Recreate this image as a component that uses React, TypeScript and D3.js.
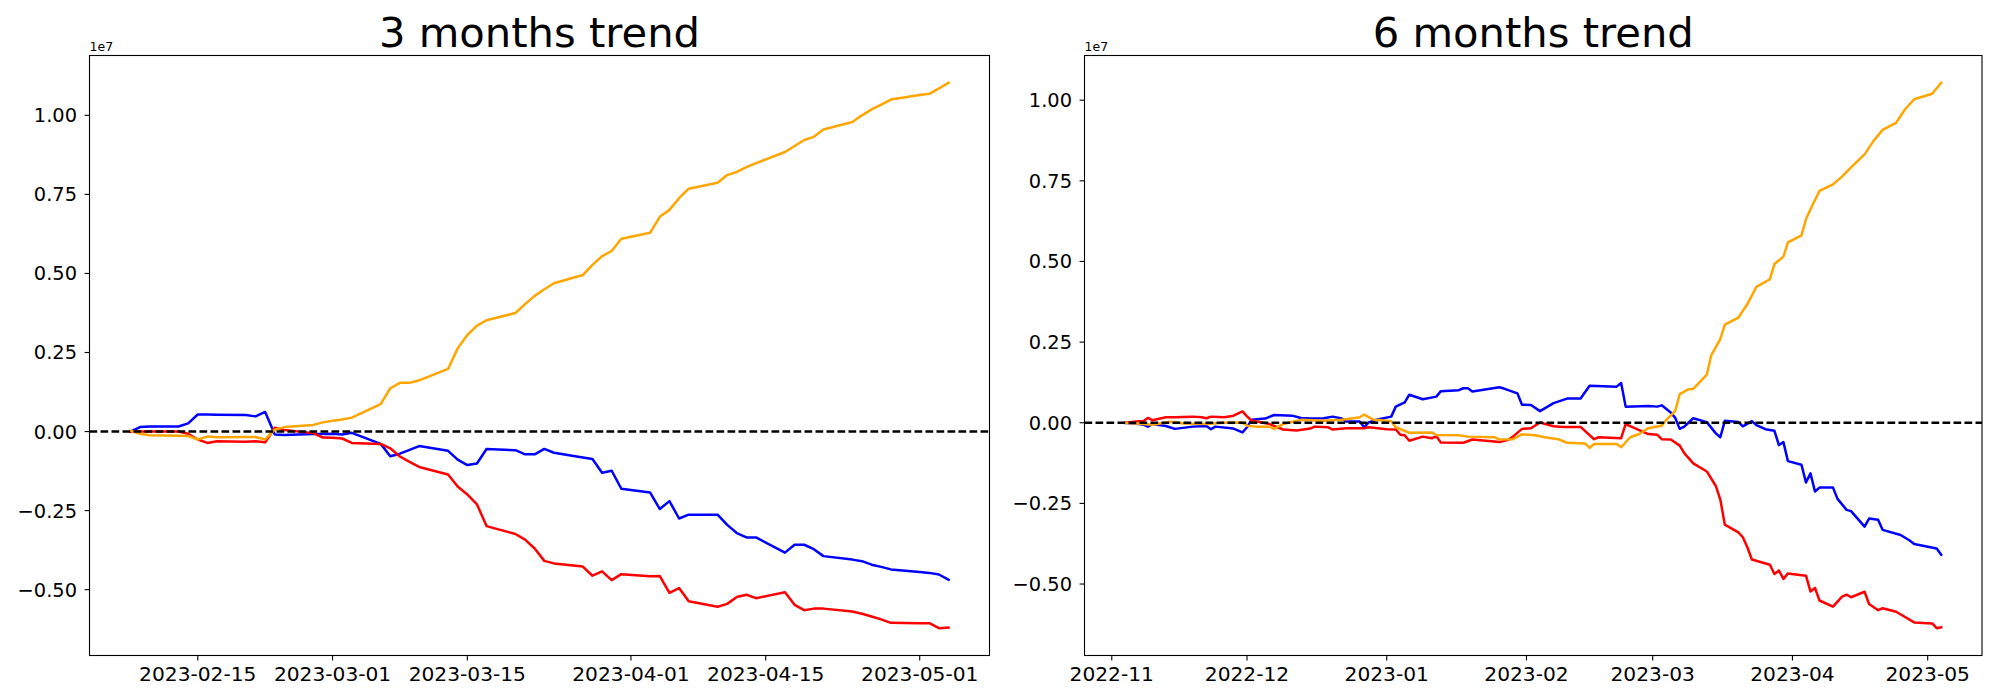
import { useEffect, useRef } from 'react';
import * as d3 from 'd3';

type Pt = [string, number];

// values are in units of 1e7 (matplotlib offset text)

// 3 months trend: one point per business day
const threeMonthDates = [
  '2023-02-08', '2023-02-09', '2023-02-10', '2023-02-13', '2023-02-14', '2023-02-15', '2023-02-16', '2023-02-17',
  '2023-02-20', '2023-02-21', '2023-02-22', '2023-02-23', '2023-02-24', '2023-02-27', '2023-02-28',
  '2023-03-01', '2023-03-02', '2023-03-03', '2023-03-06', '2023-03-07', '2023-03-08', '2023-03-09', '2023-03-10',
  '2023-03-13', '2023-03-14', '2023-03-15', '2023-03-16', '2023-03-17', '2023-03-20', '2023-03-21', '2023-03-22',
  '2023-03-23', '2023-03-24', '2023-03-27', '2023-03-28', '2023-03-29', '2023-03-30', '2023-03-31',
  '2023-04-03', '2023-04-04', '2023-04-05', '2023-04-06', '2023-04-07', '2023-04-10', '2023-04-11', '2023-04-12',
  '2023-04-13', '2023-04-14', '2023-04-17', '2023-04-18', '2023-04-19', '2023-04-20', '2023-04-21',
  '2023-04-24', '2023-04-25', '2023-04-26', '2023-04-27', '2023-04-28',
  '2023-05-01', '2023-05-02', '2023-05-03', '2023-05-04',
];

const threeMonthBlue = [
  0.0, 0.014, 0.016, 0.016, 0.026, 0.054, 0.054, 0.053, 0.052, 0.048, 0.062, -0.009, -0.011, -0.008, -0.008,
  -0.007, -0.009, -0.004, -0.039, -0.078, -0.07, -0.058, -0.046, -0.061, -0.089, -0.106, -0.101, -0.055, -0.059,
  -0.072, -0.072, -0.055, -0.067, -0.082, -0.087, -0.13, -0.124, -0.181,
  -0.193, -0.245, -0.22, -0.275, -0.263, -0.263, -0.295, -0.321, -0.335, -0.335, -0.383, -0.358, -0.358, -0.372,
  -0.394, -0.405, -0.41, -0.421, -0.428, -0.436,
  -0.444, -0.447, -0.452, -0.469,
];

const threeMonthRed = [
  0.0, 0.0, 0.0, 0.0, -0.007, -0.025, -0.036, -0.031, -0.032, -0.031, -0.034, 0.012, 0.005, -0.005, -0.019,
  -0.02, -0.022, -0.036, -0.039, -0.053, -0.079, -0.096, -0.112, -0.136, -0.174, -0.199, -0.23, -0.299, -0.324,
  -0.342, -0.37, -0.409, -0.417, -0.427, -0.456, -0.442, -0.47, -0.451,
  -0.458, -0.457, -0.51, -0.495, -0.537, -0.554, -0.545, -0.523, -0.516, -0.527, -0.508, -0.548, -0.565, -0.56,
  -0.56, -0.569, -0.576, -0.585, -0.594, -0.605,
  -0.606, -0.606, -0.622, -0.62,
];

const threeMonthOrange = [
  0.003, -0.007, -0.012, -0.013, -0.014, -0.025, -0.016, -0.018, -0.017, -0.017, -0.025, 0.006, 0.014, 0.021, 0.029,
  0.034, 0.038, 0.044, 0.087, 0.137, 0.154, 0.154, 0.162, 0.198, 0.263, 0.305, 0.335, 0.352, 0.375, 0.403, 0.429,
  0.45, 0.469, 0.495, 0.527, 0.555, 0.571, 0.61,
  0.629, 0.679, 0.701, 0.738, 0.768, 0.787, 0.811, 0.821, 0.836, 0.849, 0.884, 0.903, 0.922, 0.932, 0.955,
  0.979, 1.0, 1.019, 1.034, 1.05,
  1.064, 1.068, 1.085, 1.103,
];

// 6 months trend: vertices
const sixMonthBlue: Pt[] = [
  ['2022-11-04', 0], ['2022-11-07', -0.004], ['2022-11-08', -0.006], ['2022-11-09', -0.012], ['2022-11-10', -0.004],
  ['2022-11-13', -0.01], ['2022-11-15', -0.019], ['2022-11-19', -0.012], ['2022-11-22', -0.01], ['2022-11-23', -0.02],
  ['2022-11-24', -0.012], ['2022-11-28', -0.018], ['2022-11-30', -0.03], ['2022-12-01', -0.014], ['2022-12-02', 0.009],
  ['2022-12-05', 0.013], ['2022-12-07', 0.024], ['2022-12-11', 0.022], ['2022-12-13', 0.015], ['2022-12-15', 0.013],
  ['2022-12-18', 0.014], ['2022-12-20', 0.019], ['2022-12-22', 0.013], ['2022-12-23', 0.004], ['2022-12-26', 0.004],
  ['2022-12-27', -0.014], ['2022-12-28', 0.001], ['2022-12-30', 0.01], ['2023-01-02', 0.019], ['2023-01-03', 0.05],
  ['2023-01-05', 0.063], ['2023-01-06', 0.087], ['2023-01-09', 0.073], ['2023-01-12', 0.081], ['2023-01-13', 0.098],
  ['2023-01-17', 0.101], ['2023-01-18', 0.107], ['2023-01-19', 0.107], ['2023-01-20', 0.097], ['2023-01-26', 0.11],
  ['2023-01-27', 0.106], ['2023-01-30', 0.091], ['2023-01-31', 0.056], ['2023-02-02', 0.055], ['2023-02-04', 0.036],
  ['2023-02-07', 0.061], ['2023-02-10', 0.075], ['2023-02-13', 0.075], ['2023-02-15', 0.115], ['2023-02-21', 0.112],
  ['2023-02-22', 0.123], ['2023-02-23', 0.05], ['2023-02-28', 0.052], ['2023-03-02', 0.05], ['2023-03-03', 0.054],
  ['2023-03-05', 0.032], ['2023-03-06', 0.015], ['2023-03-07', -0.019], ['2023-03-08', -0.012], ['2023-03-10', 0.014],
  ['2023-03-13', 0.002], ['2023-03-15', -0.033], ['2023-03-16', -0.045], ['2023-03-17', 0.006], ['2023-03-20', 0.002],
  ['2023-03-21', -0.011], ['2023-03-23', 0.005], ['2023-03-24', -0.007], ['2023-03-26', -0.02], ['2023-03-28', -0.025],
  ['2023-03-29', -0.069], ['2023-03-30', -0.06], ['2023-03-31', -0.119], ['2023-04-03', -0.13], ['2023-04-04', -0.185],
  ['2023-04-05', -0.157], ['2023-04-06', -0.213], ['2023-04-07', -0.201], ['2023-04-10', -0.201], ['2023-04-11', -0.236],
  ['2023-04-13', -0.27], ['2023-04-14', -0.274], ['2023-04-17', -0.322], ['2023-04-18', -0.297], ['2023-04-20', -0.301],
  ['2023-04-21', -0.332], ['2023-04-25', -0.348], ['2023-04-27', -0.365], ['2023-04-28', -0.376], ['2023-05-03', -0.39],
  ['2023-05-04', -0.409],
];

const sixMonthRed: Pt[] = [
  ['2022-11-04', 0], ['2022-11-07', 0.005], ['2022-11-08', 0.005], ['2022-11-09', 0.015], ['2022-11-10', 0.008],
  ['2022-11-13', 0.017], ['2022-11-15', 0.017], ['2022-11-19', 0.019], ['2022-11-21', 0.017], ['2022-11-22', 0.014],
  ['2022-11-23', 0.019], ['2022-11-26', 0.017], ['2022-11-28', 0.022], ['2022-11-30', 0.035], ['2022-12-01', 0.02],
  ['2022-12-02', 0.007], ['2022-12-06', -0.004], ['2022-12-09', -0.021], ['2022-12-12', -0.024], ['2022-12-15', -0.018],
  ['2022-12-16', -0.012], ['2022-12-19', -0.014], ['2022-12-20', -0.021], ['2022-12-23', -0.017], ['2022-12-27', -0.017],
  ['2022-12-28', -0.014], ['2023-01-01', -0.02], ['2023-01-03', -0.021], ['2023-01-04', -0.037], ['2023-01-05', -0.039],
  ['2023-01-06', -0.056], ['2023-01-09', -0.043], ['2023-01-11', -0.048], ['2023-01-12', -0.042], ['2023-01-13', -0.061],
  ['2023-01-18', -0.062], ['2023-01-20', -0.052], ['2023-01-26', -0.06], ['2023-01-28', -0.053], ['2023-01-29', -0.043],
  ['2023-01-31', -0.019], ['2023-02-02', -0.017], ['2023-02-04', 0.001], ['2023-02-07', -0.011], ['2023-02-09', -0.013],
  ['2023-02-13', -0.013], ['2023-02-16', -0.051], ['2023-02-17', -0.045], ['2023-02-22', -0.048], ['2023-02-23', -0.004],
  ['2023-02-28', -0.035], ['2023-03-02', -0.037], ['2023-03-03', -0.051], ['2023-03-05', -0.052], ['2023-03-07', -0.071],
  ['2023-03-08', -0.094], ['2023-03-10', -0.126], ['2023-03-13', -0.151], ['2023-03-15', -0.196], ['2023-03-16', -0.238],
  ['2023-03-17', -0.316], ['2023-03-20', -0.34], ['2023-03-21', -0.355], ['2023-03-22', -0.386], ['2023-03-23', -0.424],
  ['2023-03-27', -0.44], ['2023-03-28', -0.469], ['2023-03-29', -0.458], ['2023-03-30', -0.484], ['2023-03-31', -0.467],
  ['2023-04-04', -0.474], ['2023-04-05', -0.523], ['2023-04-06', -0.512], ['2023-04-07', -0.551], ['2023-04-10', -0.57],
  ['2023-04-12', -0.539], ['2023-04-13', -0.533], ['2023-04-14', -0.541], ['2023-04-17', -0.524], ['2023-04-18', -0.562],
  ['2023-04-20', -0.581], ['2023-04-21', -0.575], ['2023-04-24', -0.586], ['2023-04-28', -0.619], ['2023-05-02', -0.622],
  ['2023-05-03', -0.637], ['2023-05-04', -0.634],
];

const sixMonthOrange: Pt[] = [
  ['2022-11-04', 0], ['2022-11-08', -0.004], ['2022-11-10', -0.006], ['2022-11-11', -0.004], ['2022-11-14', 0.003],
  ['2022-11-17', -0.002], ['2022-11-22', -0.004], ['2022-11-26', 0], ['2022-11-30', 0.001], ['2022-12-01', -0.009],
  ['2022-12-03', -0.012], ['2022-12-06', -0.012], ['2022-12-07', -0.019], ['2022-12-09', -0.004], ['2022-12-13', 0.009],
  ['2022-12-18', 0.006], ['2022-12-22', 0.009], ['2022-12-25', 0.015], ['2022-12-26', 0.017], ['2022-12-27', 0.025],
  ['2022-12-29', 0.01], ['2023-01-02', 0.005], ['2023-01-03', -0.014], ['2023-01-06', -0.031], ['2023-01-11', -0.03],
  ['2023-01-12', -0.038], ['2023-01-17', -0.039], ['2023-01-19', -0.043], ['2023-01-25', -0.045], ['2023-01-26', -0.052],
  ['2023-01-29', -0.051], ['2023-01-31', -0.036], ['2023-02-03', -0.039], ['2023-02-05', -0.045], ['2023-02-08', -0.051],
  ['2023-02-10', -0.062], ['2023-02-14', -0.064], ['2023-02-15', -0.078], ['2023-02-16', -0.066], ['2023-02-21', -0.066],
  ['2023-02-22', -0.076], ['2023-02-24', -0.045], ['2023-02-26', -0.035], ['2023-02-28', -0.017], ['2023-03-03', -0.009],
  ['2023-03-04', 0.008], ['2023-03-06', 0.037], ['2023-03-07', 0.089], ['2023-03-09', 0.104], ['2023-03-10', 0.105],
  ['2023-03-13', 0.149], ['2023-03-14', 0.21], ['2023-03-16', 0.259], ['2023-03-17', 0.304], ['2023-03-20', 0.326],
  ['2023-03-22', 0.368], ['2023-03-24', 0.421], ['2023-03-27', 0.445], ['2023-03-28', 0.492], ['2023-03-30', 0.515],
  ['2023-03-31', 0.559], ['2023-04-03', 0.581], ['2023-04-04', 0.631], ['2023-04-05', 0.662], ['2023-04-07', 0.719],
  ['2023-04-10', 0.739], ['2023-04-12', 0.763], ['2023-04-14', 0.792], ['2023-04-17', 0.832], ['2023-04-19', 0.874],
  ['2023-04-21', 0.908], ['2023-04-24', 0.93], ['2023-04-26', 0.972], ['2023-04-28', 1.003], ['2023-05-02', 1.02],
  ['2023-05-04', 1.054],
];

const threeMonthTicks = ['2023-02-15', '2023-03-01', '2023-03-15', '2023-04-01', '2023-04-15', '2023-05-01'];
const sixMonthTicks = ['2022-11-01', '2022-12-01', '2023-01-01', '2023-02-01', '2023-03-01', '2023-04-01', '2023-05-01'];
const yTicks = [-0.5, -0.25, 0, 0.25, 0.5, 0.75, 1.0];

const W = 2000;
const H = 700;
const FONT = '"DejaVu Sans", sans-serif';
const LW = 2.5;

const parse = d3.utcParse('%Y-%m-%d');

interface Panel {
  title: string;
  x0: number;
  x1: number;
  xTicks: string[];
  xFormat: string;
  series: { color: string; points: Pt[] }[];
}

const zip = (dates: string[], vals: number[]): Pt[] => dates.map((d, i) => [d, vals[i]]);

const panels: Panel[] = [
  {
    title: '3 months trend',
    x0: 89.5,
    x1: 989.5,
    xTicks: threeMonthTicks,
    xFormat: '%Y-%m-%d',
    series: [
      { color: 'blue', points: zip(threeMonthDates, threeMonthBlue) },
      { color: 'red', points: zip(threeMonthDates, threeMonthRed) },
      { color: 'orange', points: zip(threeMonthDates, threeMonthOrange) },
    ],
  },
  {
    title: '6 months trend',
    x0: 1084.5,
    x1: 1982,
    xTicks: sixMonthTicks,
    xFormat: '%Y-%m',
    series: [
      { color: 'blue', points: sixMonthBlue },
      { color: 'red', points: sixMonthRed },
      { color: 'orange', points: sixMonthOrange },
    ],
  },
];

const TOP = 55.5;
const BOTTOM = 655.5;

// matplotlib-style 5% autoscale margin
function pad(ext: [number, number]): [number, number] {
  const m = (ext[1] - ext[0]) * 0.05;
  return [ext[0] - m, ext[1] + m];
}

function drawPanel(svg: d3.Selection<SVGSVGElement, unknown, null, undefined>, p: Panel) {
  const all = p.series.flatMap(s => s.points);
  const tExt = d3.extent(all, d => +parse(d[0])!) as [number, number];
  const vExt = d3.extent(all, d => d[1]) as [number, number];

  const x = d3.scaleUtc().domain(pad(tExt).map(t => new Date(t))).range([p.x0, p.x1]);
  const y = d3.scaleLinear().domain(pad(vExt)).range([BOTTOM, TOP]);

  const g = svg.append('g');

  const line = d3.line<Pt>()
    .x(d => x(parse(d[0])!))
    .y(d => y(d[1]));

  p.series.forEach(s => {
    g.append('path')
      .attr('d', line(s.points) ?? '')
      .attr('fill', 'none')
      .attr('stroke', s.color)
      .attr('stroke-width', LW)
      .attr('stroke-linejoin', 'round')
      .attr('stroke-linecap', 'square');
  });

  // zero reference
  g.append('line')
    .attr('x1', p.x0).attr('x2', p.x1)
    .attr('y1', y(0)).attr('y2', y(0))
    .attr('stroke', 'black')
    .attr('stroke-width', LW)
    .attr('stroke-dasharray', '7.7 3.3');

  // frame
  g.append('rect')
    .attr('x', p.x0).attr('y', TOP)
    .attr('width', p.x1 - p.x0).attr('height', BOTTOM - TOP)
    .attr('fill', 'none')
    .attr('stroke', 'black')
    .attr('stroke-width', 1.1);

  // y ticks
  const fmtY = (v: number) => d3.format('.2f')(v).replace('-', '\u2212');
  yTicks.forEach(v => {
    const yy = y(v);
    g.append('line')
      .attr('x1', p.x0 - 4.9).attr('x2', p.x0)
      .attr('y1', yy).attr('y2', yy)
      .attr('stroke', 'black').attr('stroke-width', 1.1);
    g.append('text')
      .attr('x', p.x0 - 12.5)
      .attr('y', yy + 7)
      .attr('text-anchor', 'end')
      .attr('font-family', FONT)
      .attr('font-size', 19.4)
      .attr('fill', 'black')
      .text(fmtY(v));
  });

  // x ticks
  const fmtX = d3.utcFormat(p.xFormat);
  p.xTicks.forEach(t => {
    const xx = x(parse(t)!);
    g.append('line')
      .attr('x1', xx).attr('x2', xx)
      .attr('y1', BOTTOM).attr('y2', BOTTOM + 4.9)
      .attr('stroke', 'black').attr('stroke-width', 1.1);
    g.append('text')
      .attr('x', xx)
      .attr('y', 681)
      .attr('text-anchor', 'middle')
      .attr('font-family', FONT)
      .attr('font-size', 20.2)
      .attr('fill', 'black')
      .text(fmtX(parse(t)!));
  });

  // offset text
  g.append('text')
    .attr('x', p.x0)
    .attr('y', 51)
    .attr('font-family', FONT)
    .attr('font-size', 12.5)
    .attr('fill', 'black')
    .text('1e7');

  // title
  g.append('text')
    .attr('x', (p.x0 + p.x1) / 2)
    .attr('y', 46.5)
    .attr('text-anchor', 'middle')
    .attr('font-family', FONT)
    .attr('font-size', 41.7)
    .attr('fill', 'black')
    .text(p.title);
}

export default function App() {
  const svgRef = useRef<SVGSVGElement>(null);

  useEffect(() => {
    if (!svgRef.current) return;
    const svg = d3.select(svgRef.current);
    svg.selectAll('*').remove();
    svg.append('rect').attr('width', W).attr('height', H).attr('fill', 'white');
    panels.forEach(p => drawPanel(svg, p));
  }, []);

  return (
    <svg
      ref={svgRef}
      width={W}
      height={H}
      viewBox={`0 0 ${W} ${H}`}
      style={{ position: 'absolute', left: 0, top: 0, display: 'block' }}
    />
  );
}
